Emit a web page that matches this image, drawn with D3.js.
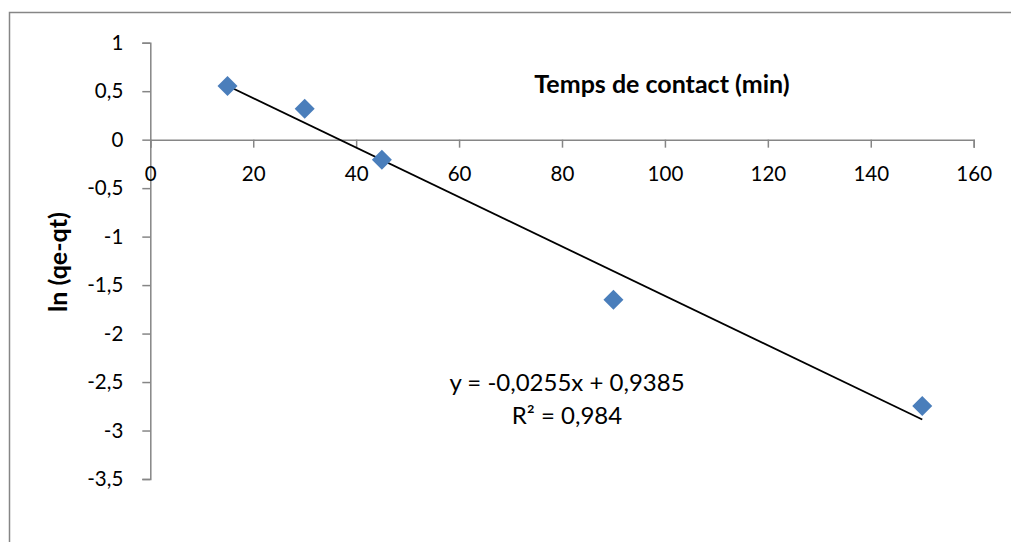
<!DOCTYPE html>
<html>
<head>
<meta charset="utf-8">
<script src="https://cdn.jsdelivr.net/npm/d3@7"></script>
<style>
  html, body { margin: 0; padding: 0; background: #fff; }
  svg { display: block; }
  text { font-family: Lato, "Open Sans", sans-serif; fill: #000; }
</style>
</head>
<body>
<svg id="chart" width="1011" height="542"></svg>
<script>
// Contact time (min) and ln(qe - qt)
const timeMin = [15, 30, 45, 90, 150];
const lnQeQt = [0.553, 0.32, -0.206, -1.65, -2.748];
const xTicks = [0, 20, 40, 60, 80, 100, 120, 140, 160];
const yTicks = [1, 0.5, 0, -0.5, -1, -1.5, -2, -2.5, -3, -3.5];
const trendSlope = -0.0255;
const trendIntercept = 0.9385;
const equationText = "y = -0,0255x + 0,9385";
const r2Text = "R² = 0,984";

const svg = d3.select("#chart");
const fmt = v => String(v).replace(".", ",");

// Outer chart frame
svg.append("rect")
  .attr("x", 9.5).attr("y", 12.5)
  .attr("width", 1010).attr("height", 540)
  .attr("fill", "none").attr("stroke", "#868686").attr("stroke-width", 1.5);

const x = d3.scaleLinear().domain([0, 160]).range([150.3, 973.7]);
const y = d3.scaleLinear().domain([1, -3.5]).range([42.7, 479]);

const axisColor = "#868686";
const tickFont = "20.5px";

// Y axis
const yAxis = svg.append("g")
  .attr("transform", `translate(${x(0)},0)`)
  .call(d3.axisLeft(y).tickValues(yTicks).tickSize(8).tickPadding(19).tickFormat(fmt));
yAxis.select(".domain").attr("stroke", axisColor).attr("stroke-width", 1.5);
yAxis.selectAll(".tick line").attr("stroke", axisColor).attr("stroke-width", 1.5);
yAxis.selectAll(".tick text").style("font-size", tickFont).attr("fill", "#000");

// X axis crossing at y = 0
const xAxis = svg.append("g")
  .attr("transform", `translate(0,${y(0)})`)
  .call(d3.axisBottom(x).tickValues(xTicks).tickSize(8).tickPadding(19).tickFormat(fmt));
xAxis.select(".domain").attr("stroke", axisColor).attr("stroke-width", 1.5);
xAxis.selectAll(".tick line").attr("stroke", axisColor).attr("stroke-width", 1.5);
xAxis.selectAll(".tick text").style("font-size", tickFont).attr("fill", "#000");

// Linear trend line over the measured range
const xMin = d3.min(timeMin), xMax = d3.max(timeMin);
svg.append("line")
  .attr("x1", x(xMin)).attr("y1", y(trendSlope * xMin + trendIntercept))
  .attr("x2", x(xMax)).attr("y2", y(trendSlope * xMax + trendIntercept))
  .attr("stroke", "#000").attr("stroke-width", 1.8);

// Diamond markers
const diamond = d3.symbol().type(d3.symbolSquare).size(200);
svg.append("g").selectAll("path")
  .data(timeMin.map((t, i) => [t, lnQeQt[i]]))
  .join("path")
  .attr("d", diamond)
  .attr("transform", d => `translate(${x(d[0])},${y(d[1])}) rotate(45)`)
  .attr("fill", "#4a7ebb");

// Axis titles
svg.append("text")
  .attr("x", 662).attr("y", 93)
  .attr("text-anchor", "middle")
  .style("font-size", "25px").style("font-weight", "bold")
  .text("Temps de contact (min)");

svg.append("text")
  .attr("transform", "translate(67,262) rotate(-90)")
  .attr("text-anchor", "middle")
  .style("font-size", "25px").style("font-weight", "bold")
  .text("ln (qe-qt)");

// Regression equation
svg.append("text")
  .attr("x", 567).attr("y", 391)
  .attr("text-anchor", "middle")
  .style("font-size", "24px")
  .text(equationText);
svg.append("text")
  .attr("x", 567).attr("y", 424)
  .attr("text-anchor", "middle")
  .style("font-size", "24px")
  .text(r2Text);
</script>
</body>
</html>
